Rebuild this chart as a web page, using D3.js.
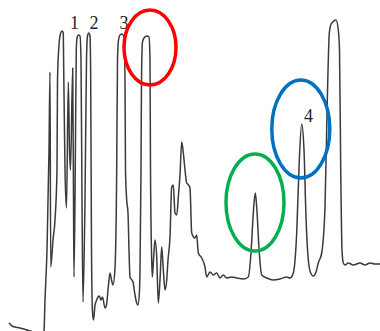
<!DOCTYPE html>
<html>
<head>
<meta charset="utf-8">
<script src="https://cdn.jsdelivr.net/npm/d3@7"></script>
<style>
  html, body { margin: 0; padding: 0; background: #fff; }
  svg { display: block; }
</style>
</head>
<body>
<div id="chart"></div>
<script>
// retention time (min) and detector signal
var times = [0.9,1.3,2.0,2.7,3.5,4.2,4.4,4.5,4.7,4.9,5.0,5.07,5.3,5.5,5.7,5.75,5.9,6.07,6.23,6.33,6.35,6.5,6.65,6.83,6.95,7.05,7.27,7.35,7.4,7.55,7.63,7.7,7.83,8.0,8.1,8.2,8.3,8.5,8.65,8.75,8.87,9.0,9.07,9.15,9.25,9.35,9.5,9.67,9.8,9.93,10.1,10.25,10.5,10.65,10.8,11.0,11.15,11.3,11.5,11.67,11.75,11.85,12.0,12.2,12.4,12.5,12.55,12.67,12.8,12.9,13.0,13.3,13.5,13.67,13.8,13.95,14.0,14.1,14.15,14.25,14.4,14.7,14.9,15.0,15.05,15.17,15.23,15.35,15.5,15.67,15.83,16.0,16.17,16.33,16.5,16.67,16.8,17.0,17.17,17.33,17.5,17.67,17.85,18.0,18.17,18.3,18.5,18.67,18.85,19.0,19.17,19.5,19.67,19.83,20.17,20.5,20.67,21.0,21.33,21.67,22.0,22.33,22.67,23.17,23.67,24.33,24.83,25.1,25.33,25.53,25.67,25.93,26.17,26.67,27.33,28.0,28.67,29.0,29.33,29.67,29.93,30.17,30.4,30.6,30.83,31.07,31.33,31.6,31.83,32.17,32.5,32.73,32.93,33.07,33.27,33.6,33.83,33.95,34.07,34.2,34.33,34.5,34.83,35.33,36.0,36.5,37.0,37.5,38.0];
var signal = [8,4.5,3,1,-2,-7,0,31,81,181,259,64,91,111,161,251,286,298,300,298,281,161,123,249,181,161,263,131,54,191,281,293,296,295,271,131,29,131,271,295,298,295,251,81,19,11,26,31,34,35,31,34,23,26,41,58,51,46,63,161,271,291,296,297,294,251,161,131,118,81,54,49,36,28,26,41,61,161,251,289,293,295,294,271,161,71,54,71,91,74,28,51,84,61,41,51,71,94,144,146,118,116,136,156,189,181,161,148,146,143,98,93,96,78,73,64,54,59,56,58,53,56,53,54,53,52,54,78,118,138,124,78,56,53,51,52,54,53,58,98,171,207,181,114,71,58,55,59,68,78,124,231,298,306,309,311,301,281,164,81,68,66,68,66,68,66,68,67,67];
var peakLabels = ["1", "2", "3", "4"];
var labelTimes = [7.45, 9.4, 12.4, 30.85];
var labelSignal = [302, 302, 302, 209];
// circled peaks: centre time, centre signal, half width (min), half height
var markTimes = [15.0, 25.5, 30.08];
var markSignal = [283.5, 128.5, 202];
var markHalfT = [2.6, 2.9, 2.9];
var markHalfS = [37.5, 48.5, 49];
var markColors = ["#ff0000", "#00b050", "#0070c0"];

var width = 380, height = 331;

var x = d3.scaleLinear().domain([0, 38]).range([0, width]);
var y = d3.scaleLinear().domain([0, 331]).range([height, 0]);

var svg = d3.select("#chart").append("svg")
    .attr("width", width)
    .attr("height", height);

svg.append("rect")
    .attr("width", width)
    .attr("height", height)
    .attr("fill", "#fff");

var points = times.map(function(t, i) { return [t, signal[i]]; });

var line = d3.line()
    .x(function(d) { return x(d[0]); })
    .y(function(d) { return y(d[1]); })
    .curve(d3.curveMonotoneX);

svg.append("path")
    .datum(points)
    .attr("d", line)
    .attr("fill", "none")
    .attr("stroke", "#3a3a3a")
    .attr("stroke-width", 1.5)
    .attr("stroke-linejoin", "round");

svg.selectAll("text.peak")
    .data(peakLabels)
    .enter()
    .append("text")
    .attr("class", "peak")
    .attr("x", function(d, i) { return x(labelTimes[i]); })
    .attr("y", function(d, i) { return y(labelSignal[i]); })
    .attr("text-anchor", "middle")
    .attr("font-family", "'Liberation Serif', 'DejaVu Serif', serif")
    .attr("font-size", 18)
    .attr("fill", "#222")
    .text(function(d) { return d; });

svg.selectAll("ellipse")
    .data(markTimes)
    .enter()
    .append("ellipse")
    .attr("cx", function(d) { return x(d); })
    .attr("cy", function(d, i) { return y(markSignal[i]); })
    .attr("rx", function(d, i) { return x(markHalfT[i]) - x(0); })
    .attr("ry", function(d, i) { return y(0) - y(markHalfS[i]); })
    .attr("fill", "none")
    .attr("stroke", function(d, i) { return markColors[i]; })
    .attr("stroke-width", 3.5);
</script>
</body>
</html>
